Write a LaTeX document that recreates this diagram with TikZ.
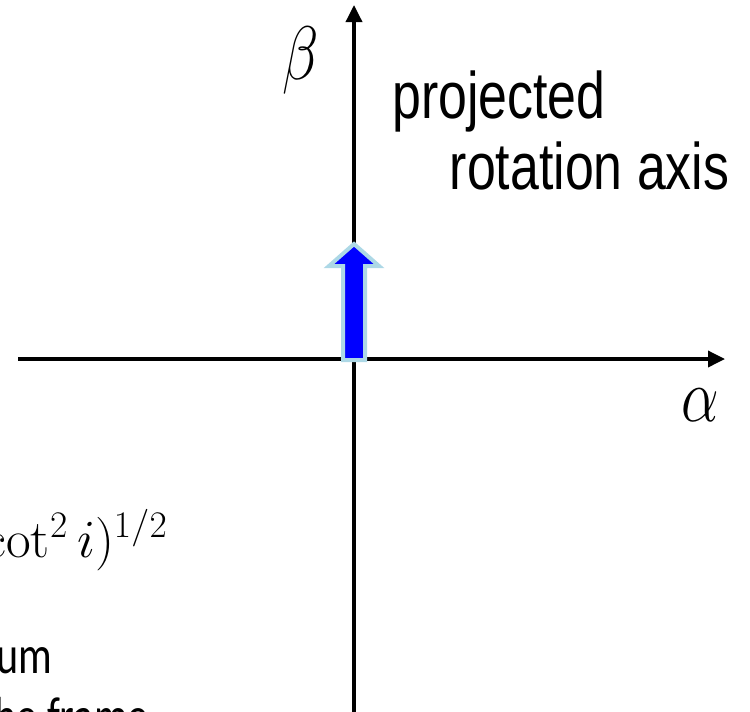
\documentclass[tikz,border=0pt]{standalone}
\usepackage{fix-cm}
\usepackage[no-math]{fontspec}
\setmainfont{Liberation Sans}
\newfontfamily\notefont{Carlito}
\usepackage{amsmath, amssymb}
\usetikzlibrary{positioning,arrows.meta}
\definecolor{axisblue}{RGB}{173,216,230}
\newcommand{\tall}[1]{\scalebox{1}[1.27]{#1}}
\tikzset{
  axisline/.style={-{Triangle[length=0.34cm, width=0.32cm]}, line width=0.07cm},
  spinarrow/.style={draw=axisblue, fill=blue, line width=0.08cm, line join=miter},
  biglabel/.style={inner sep=0pt, font=\fontsize{29.5}{32}\selectfont},
  mathlabel/.style={inner sep=0pt, font=\fontsize{34}{38}\selectfont},
  formula/.style={inner sep=0pt, font=\fontsize{30.5}{34}\selectfont},
  notelabel/.style={inner sep=0pt, font=\notefont\fontsize{24}{28}\selectfont}
}

\begin{document}
\begin{tikzpicture}[x=0.02cm, y=-0.02cm]
  \useasboundingbox (0,0) rectangle (750,711);
  \clip (0,0) rectangle (750,711);
  % axes
  \coordinate (xl) at (18,359);
  \coordinate (xr) at (725,359);
  \coordinate (yb) at (354,730);
  \coordinate (yt) at (354,5);
  \draw[axisline] (xl) -- (xr);
  \draw[axisline] (yb) -- (yt);
  \node[mathlabel] (alpha) at (700.5,405) {\tall{$\alpha$}};
  \node[mathlabel] (beta) at (301,61) {\tall{$\beta$}};
  % projected rotation axis
  \draw[spinarrow] (343,360) -- (343,266) -- (329,266) -- (354,244)
    -- (379,266) -- (365,266) -- (365,360) -- cycle;
  \node[biglabel, anchor=base west] (proj) at (392,118) {\tall{projected}};
  \node[biglabel, anchor=base west] (rot) at (449.5,189) {\tall{rotation axis}};
  % left side notes
  \node[formula, anchor=base east] (eq) at (168,557) {$(1+\cot^2 i)^{1/2}$};
  \node[notelabel, anchor=base east] (mom) at (53,673) {\tall{momentum}};
  \node[notelabel, anchor=base east] (frame) at (149,734) {\tall{the frame}};
\end{tikzpicture}
\end{document}
